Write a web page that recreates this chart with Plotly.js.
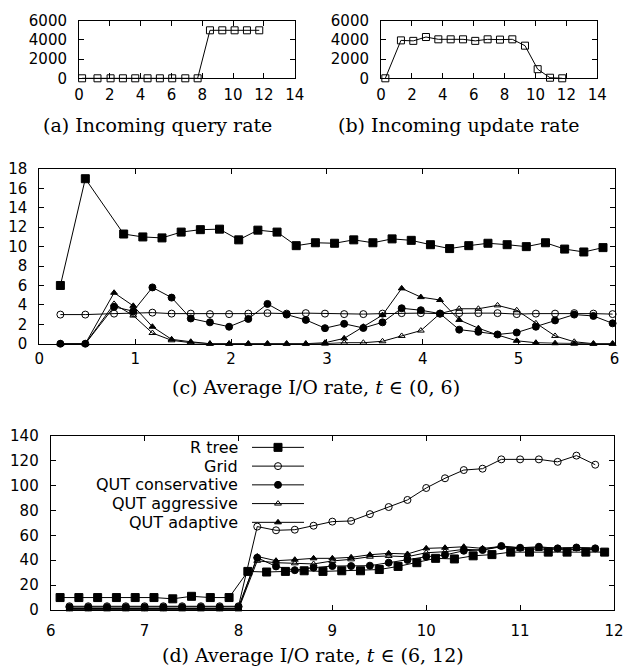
<!DOCTYPE html>
<html><head><meta charset="utf-8">
<script src="https://cdn.plot.ly/plotly-3.0.1.min.js"></script>
<style>html,body{margin:0;padding:0;background:#fff}</style>
</head><body>
<div id="chart" style="width:629px;height:671px"></div>
<script>
// ---- (a) incoming query rate ----
const queryX = [0.2, 1.2, 2.05, 2.85, 3.65, 4.45, 5.25, 6.05, 6.9, 7.7, 8.5, 9.3, 10.1, 10.9, 11.7];
const queryY = [0, 0, 0, 0, 0, 0, 0, 0, 0, 0, 5000, 5000, 5000, 5000, 5000];
// ---- (b) incoming update rate ----
const updateX = [0.28, 1.29, 2.09, 2.91, 3.71, 4.51, 5.31, 6.1, 6.9, 7.7, 8.5, 9.32, 10.14, 10.94, 11.73];
const updateY = [0, 3950, 3900, 4300, 4060, 4060, 4060, 3900, 4060, 4030, 4060, 3400, 950, 60, 0];

const seriesNames = ['R tree', 'Grid', 'QUT conservative', 'QUT aggressive', 'QUT adaptive'];

// ---- (c) average I/O rate, t in (0,6) ----
const rtreeCX = [0.22, 0.48, 0.88, 1.08, 1.28, 1.48, 1.68, 1.88, 2.08, 2.28, 2.48, 2.68, 2.88, 3.08, 3.28, 3.48, 3.68, 3.88, 4.08, 4.28, 4.48, 4.68, 4.88, 5.08, 5.28, 5.48, 5.68, 5.88];
const rtreeCY = [6.0, 17.0, 11.3, 11.0, 10.9, 11.5, 11.75, 11.8, 10.7, 11.7, 11.5, 10.1, 10.4, 10.35, 10.7, 10.4, 10.8, 10.65, 10.2, 9.8, 10.1, 10.35, 10.2, 10.0, 10.4, 9.75, 9.45, 9.9];
const otherCX = [0.22, 0.48, 0.78, 0.98, 1.18, 1.38, 1.58, 1.78, 1.98, 2.18, 2.38, 2.58, 2.78, 2.98, 3.18, 3.38, 3.58, 3.78, 3.98, 4.18, 4.38, 4.58, 4.78, 4.98, 5.18, 5.38, 5.58, 5.78, 5.98];
const gridCY  = [3.0, 3.0, 3.1, 3.15, 3.2, 3.1, 3.1, 3.05, 3.05, 3.1, 3.15, 3.1, 3.15, 3.1, 3.05, 3.05, 3.1, 3.15, 3.15, 3.1, 3.15, 3.15, 3.15, 3.05, 3.1, 3.1, 3.15, 3.1, 3.05];
const consCY  = [0, 0, 3.8, 3.35, 5.8, 4.75, 2.6, 2.2, 1.75, 2.55, 4.1, 3.0, 2.45, 1.6, 2.05, 1.62, 2.2, 3.65, 3.45, 3.1, 1.45, 1.22, 0.95, 1.15, 1.75, 2.4, 3.0, 2.86, 2.1];
const aggrCY  = [0, 0, 4.1, 2.9, 1.1, 0.35, 0.1, 0, 0, 0, 0, 0, 0, 0, 0.1, 0.1, 0.25, 0.8, 1.35, 3.1, 3.6, 3.6, 3.95, 3.45, 2.1, 0.8, 0.2, 0, 0];
const adaptCY = [0, 0, 5.25, 3.9, 1.75, 0.45, 0.2, 0, 0, 0, 0, 0, 0, 0.1, 0.55, 1.75, 2.95, 5.7, 4.8, 4.5, 2.45, 1.6, 0.9, 0.3, 0.1, 0.05, 0, 0, 0];

// ---- (d) average I/O rate, t in (6,12) ----
const rtreeDX = [6.1, 6.3, 6.5, 6.7, 6.9, 7.1, 7.3, 7.5, 7.7, 7.9, 8.1, 8.3, 8.5, 8.7, 8.9, 9.1, 9.3, 9.5, 9.7, 9.9, 10.1, 10.3, 10.5, 10.7, 10.9, 11.1, 11.3, 11.5, 11.7, 11.9];
const rtreeDY = [10, 10, 10, 10, 10, 10, 9, 11, 10, 10, 31, 30.5, 31, 31.5, 31, 31.5, 31.5, 32.5, 35, 38, 41.5, 41, 43.5, 44.5, 46.5, 46.5, 46.5, 46.5, 46.5, 46.5];
const otherDX = [6.2, 6.4, 6.6, 6.8, 7.0, 7.2, 7.4, 7.6, 7.8, 8.0, 8.2, 8.4, 8.6, 8.8, 9.0, 9.2, 9.4, 9.6, 9.8, 10.0, 10.2, 10.4, 10.6, 10.8, 11.0, 11.2, 11.4, 11.6, 11.8];
const gridDY  = [3, 3, 3, 3, 3, 3, 3, 3, 3, 3, 67, 64, 64.5, 67.7, 71, 71.5, 77, 82.7, 88.4, 98, 105.8, 112.4, 113.5, 121, 121, 121, 119, 124, 116.7];
const consDY  = [2.3, 2.3, 2.3, 2.3, 2.3, 2.3, 2.3, 2.3, 2.3, 2.5, 42, 35, 32, 34, 35.3, 35.3, 35.6, 38, 40.2, 42.8, 44.2, 47.6, 48.2, 51.4, 50, 50.8, 49.5, 50.2, 49.5];
const aggrDY  = [0.5, 0.5, 0.5, 0.5, 0.5, 0.5, 0.5, 0.5, 0.5, 0.5, 39.5, 38, 37.5, 37, 39.4, 40.7, 42.8, 43.4, 42.8, 46, 46.8, 48.7, 48.2, 50.8, 49, 49, 48.5, 49, 48.5];
const adaptDY = [1.2, 1.2, 1.2, 1.2, 1.2, 1.2, 1.2, 1.2, 1.2, 1.2, 43, 39.6, 40.4, 41.5, 41.5, 42.3, 44.4, 45.5, 45, 49.5, 50, 50.8, 49.5, 51, 50, 50, 49.8, 50, 49.8];

const captions = ['(a) Incoming query rate', '(b) Incoming update rate',
  '(c) Average I/O rate, <i>t</i> ∈ (0, 6)', '(d) Average I/O rate, <i>t</i> ∈ (6, 12)'];

// ---- styles ----
const symbols = ['square', 'circle-open', 'circle', 'triangle-up-open', 'triangle-up'];
const sizes = [8, 7, 7, 6, 6];
const BLACK = '#000';

function series(x, y, i, xa, ya) {
  return {x: x, y: y, xaxis: xa, yaxis: ya, type: 'scatter', mode: 'lines+markers',
    cliponaxis: false, showlegend: false, hoverinfo: 'skip',
    line: {color: BLACK, width: 1},
    marker: {symbol: symbols[i], size: sizes[i], color: BLACK, line: {color: BLACK, width: 1}}};
}

const traces = [];
traces.push({x: queryX, y: queryY, xaxis: 'x', yaxis: 'y', type: 'scatter', mode: 'lines+markers',
  cliponaxis: false, showlegend: false, line: {color: BLACK, width: 1},
  marker: {symbol: 'square-open', size: 7, color: BLACK, line: {color: BLACK, width: 1}}});
traces.push({x: updateX, y: updateY, xaxis: 'x2', yaxis: 'y2', type: 'scatter', mode: 'lines+markers',
  cliponaxis: false, showlegend: false, line: {color: BLACK, width: 1},
  marker: {symbol: 'square-open', size: 7, color: BLACK, line: {color: BLACK, width: 1}}});

const cSeries = [[rtreeCX, rtreeCY], [otherCX, gridCY], [otherCX, consCY], [otherCX, aggrCY], [otherCX, adaptCY]];
cSeries.forEach((s, i) => traces.push(series(s[0], s[1], i, 'x3', 'y3')));
const dSeries = [[rtreeDX, rtreeDY], [otherDX, gridDY], [otherDX, consDY], [otherDX, aggrDY], [otherDX, adaptDY]];
dSeries.forEach((s, i) => traces.push(series(s[0], s[1], i, 'x4', 'y4')));

// legend samples drawn in a hidden helper subplot (x5/y5)
const annotations = [];
seriesNames.forEach((name, i) => {
  const row = seriesNames.length - 1 - i;
  traces.push({x: [0, 1], y: [row, row], xaxis: 'x5', yaxis: 'y5', type: 'scatter', mode: 'lines',
    showlegend: false, cliponaxis: false, line: {color: BLACK, width: 1}});
  traces.push({x: [0.5], y: [row], xaxis: 'x5', yaxis: 'y5', type: 'scatter', mode: 'markers',
    showlegend: false, cliponaxis: false,
    marker: {symbol: symbols[i], size: sizes[i], color: BLACK, line: {color: BLACK, width: 1}}});
  annotations.push({text: name, xref: 'paper', yref: 'y5', x: 240 / 629, y: row, xanchor: 'right',
    yanchor: 'middle', showarrow: false, font: {family: 'DejaVu Sans', size: 16, color: BLACK}});
});

const capPos = [[158, 125], [458, 125], [316, 387], [313, 655]];
captions.forEach((c, i) => {
  annotations.push({text: c, xref: 'paper', yref: 'paper', x: capPos[i][0] / 629, y: 1 - capPos[i][1] / 671,
    xanchor: 'center', yanchor: 'middle', showarrow: false,
    font: {family: 'DejaVu Serif', size: 19, color: BLACK}});
});

function axis(domain, range, dtick, standoff) {
  return {domain: domain, range: range, dtick: dtick, tick0: 0, autorange: false,
    ticks: 'inside', ticklen: 5, tickwidth: 1, tickcolor: BLACK,
    showline: true, linecolor: BLACK, linewidth: 1, mirror: 'ticks',
    showgrid: false, zeroline: false, fixedrange: true, ticklabelstandoff: standoff,
    tickfont: {family: 'DejaVu Sans', size: 15, color: BLACK}};
}
const W = 629, H = 671;
const px = (a, b) => [a / W, b / W];
const py = (top, bottom) => [(H - bottom) / H, (H - top) / H];

const layout = {
  width: W, height: H, margin: {l: 0, r: 0, t: 0, b: 0},
  paper_bgcolor: '#fff', plot_bgcolor: 'rgba(0,0,0,0)', showlegend: false,
  xaxis:  Object.assign(axis(px(79, 294.7), [0, 14], 2, 3), {anchor: 'y'}),
  yaxis:  Object.assign(axis(py(20.7, 78.3), [0, 6000], 2000, 8), {anchor: 'x'}),
  xaxis2: Object.assign(axis(px(381, 597.3), [0, 14], 2, 3), {anchor: 'y2'}),
  yaxis2: Object.assign(axis(py(20.7, 78.3), [0, 6000], 2000, 8), {anchor: 'x2'}),
  xaxis3: Object.assign(axis(px(39.3, 614.5), [0, 6], 1, 1), {anchor: 'y3'}),
  yaxis3: Object.assign(axis(py(169, 343.7), [0, 18], 2, 8), {anchor: 'x3'}),
  xaxis4: Object.assign(axis(px(50.7, 614), [6, 12], 1, 7), {anchor: 'y4'}),
  yaxis4: Object.assign(axis(py(435.7, 610), [0, 140], 20, 8), {anchor: 'x4'}),
  xaxis5: {domain: px(252, 304), range: [0, 1], visible: false, fixedrange: true, anchor: 'y5'},
  yaxis5: {domain: py(438, 531.7), range: [-0.5, 4.5], visible: false, fixedrange: true, anchor: 'x5'},
  annotations: annotations
};

Plotly.newPlot('chart', traces, layout, {staticPlot: true, displayModeBar: false});
</script>
</body></html>
